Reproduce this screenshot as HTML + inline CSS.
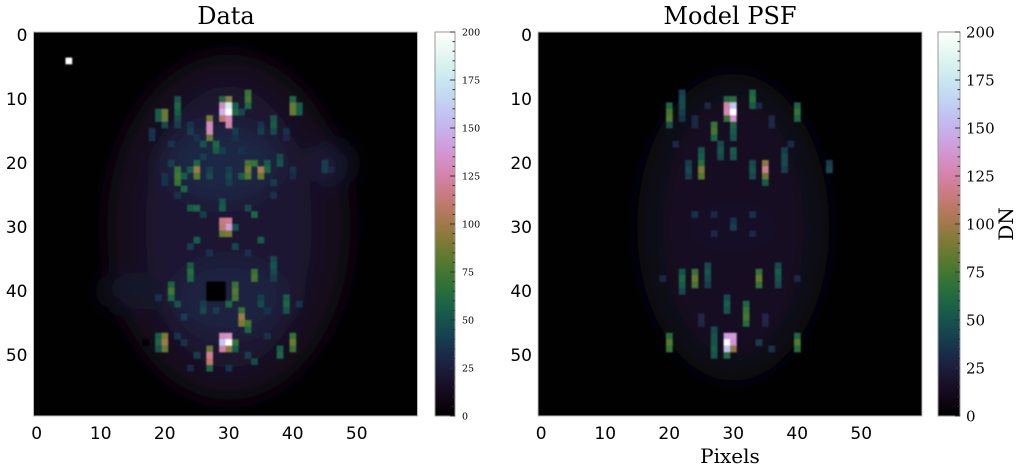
<!DOCTYPE html>
<html><head><meta charset="utf-8">
<style>
html,body{margin:0;padding:0;background:#fff;}
body{width:1020px;height:467px;position:relative;overflow:hidden;font-family:"DejaVu Sans","Liberation Sans",sans-serif;}
</style></head>
<body>
<svg id="chart" width="1020" height="467" xmlns="http://www.w3.org/2000/svg" style="position:absolute;left:0;top:0">
<defs>
<linearGradient id="cg" x1="0" y1="1" x2="0" y2="0"></linearGradient>
<filter id="hazeBlur" filterUnits="userSpaceOnUse" x="0" y="0" width="1020" height="467"><feGaussianBlur stdDeviation="12"/></filter>
<filter id="cellBlur" filterUnits="userSpaceOnUse" x="0" y="0" width="1020" height="467"><feGaussianBlur stdDeviation="0.9"/></filter>
<clipPath id="clipL"><rect x="33.5" y="32" width="384" height="384"/></clipPath>
<clipPath id="clipR"><rect x="538" y="32" width="384" height="384"/></clipPath>
</defs>
<g id="imgL" clip-path="url(#clipL)"></g>
<g id="imgR" clip-path="url(#clipR)"></g>
<g id="frames"></g>
<g id="cbL"></g>
<g id="cbR"></g>
<g id="axes"></g>
</svg>
<script>
// tick values
const axisTicks=[0,10,20,30,40,50];
const cbTicks=[0,25,50,75,100,125,150,175,200];
// haze ellipses [centerCol,centerRow,radiusCols,radiusRows,value]
const hazeData=[[30,30,19,27,12],[30,30,13,22,20],[29,20,9,6,30],[30,41,9,6,28],[46,20,3,3,26],[15,40,5,3,18]];
const hazeModel=[[30,30,15,24,9],[30,30,11,20,15],[30,30,7,4,16]];
// bright cells [col,row,value]
const cellsData=[[5,4,200],
[30,10,95],[29,10,60],[29,11,130],[30,11,180],[29,12,150],[30,12,200],[29,13,110],[30,13,130],[30,14,125],[31,12,60],[31,11,55],
[27,13,90],[27,14,130],[27,15,130],[27,16,85],[28,17,60],[28,18,55],[26,17,50],
[20,12,85],[20,13,85],[19,12,55],[19,13,55],[20,14,45],[22,10,50],[22,11,60],[22,12,55],[22,13,45],[22,14,40],
[33,9,70],[33,10,75],[33,11,60],[32,12,45],[40,11,85],[40,12,85],[41,11,55],[41,12,55],[40,10,60],[37,13,50],[37,14,55],[37,15,45],
[18,15,35],[18,16,35],[24,14,35],[24,15,40],[25,16,35],[31,15,40],[31,16,35],[35,14,35],[35,15,40],[39,15,35],[39,16,30],[21,17,35],[26,19,40],[29,18,40],[32,18,35],
[25,20,60],[25,21,100],[25,22,80],[24,21,55],[22,21,70],[22,22,75],[22,23,70],[23,24,60],[23,22,55],[21,20,40],
[33,20,75],[33,21,90],[33,22,80],[34,20,70],[35,21,105],[35,22,85],[36,21,60],[36,20,55],[32,22,55],[38,19,45],[38,20,50],
[27,21,40],[27,22,45],[30,21,40],[30,22,45],[30,23,40],[20,22,35],[20,23,35],[40,21,35],[40,22,30],[37,23,40],
[45,20,40],[45,21,40],[46,21,30],
[24,27,55],[25,27,60],[29,26,50],[29,27,55],[34,28,60],[33,27,45],[26,28,40],[22,25,35],[37,25,35],
[29,29,115],[30,29,120],[30,30,140],[29,30,110],[29,31,85],[30,31,90],[31,30,50],
[25,32,55],[35,32,55],[24,33,40],[31,33,45],[27,34,35],[33,34,35],
[24,36,55],[24,37,65],[24,38,60],[34,37,70],[34,38,75],[37,35,45],[37,36,50],[37,37,45],[37,38,40],
[27,39,0],[28,39,0],[29,39,0],[27,40,0],[28,40,0],[29,40,0],[27,41,0],[28,41,0],[29,41,0],
[21,39,60],[21,40,75],[21,41,60],[22,42,50],[31,39,70],[31,40,80],[31,41,75],[30,42,60],
[26,42,40],[26,43,45],[28,43,40],[35,41,40],[35,42,45],[36,43,35],[23,44,40],[19,41,35],[41,42,35],
[32,43,70],[32,44,100],[32,45,90],[33,45,75],[33,46,60],[39,41,55],[39,42,60],[39,43,50],
[20,47,90],[20,48,100],[20,49,85],[19,47,55],[19,48,60],[19,49,50],[17,48,0],
[29,47,130],[30,47,135],[29,48,160],[30,48,200],[29,49,125],[30,49,95],[31,48,70],[31,49,55],
[27,49,85],[27,50,120],[27,51,110],[27,52,60],[40,47,70],[40,48,85],[40,49,70],[38,49,55],[38,50,60],[34,51,45],[25,50,40],
[22,47,35],[23,48,35],[36,47,35],[33,50,40],[30,52,35],[24,52,30]];
const cellsModel=[
[29,10,60],[30,10,65],[29,11,125],[30,11,160],[29,12,130],[30,12,200],[30,13,135],[29,13,70],[30,14,60],[30,15,55],[30,16,50],
[20,11,60],[20,12,75],[20,13,80],[20,14,50],[40,11,60],[40,12,70],[40,13,60],
[22,9,40],[22,10,45],[22,11,45],[22,12,40],[22,13,35],[33,9,60],[33,10,65],[33,11,55],
[27,14,70],[27,15,75],[27,16,60],[28,17,45],[28,18,50],[28,19,45],[30,18,55],[30,19,50],
[25,18,50],[25,19,55],[25,20,65],[25,21,90],[25,22,80],[23,20,40],[23,21,45],[23,22,40],
[35,20,95],[35,21,120],[35,22,85],[35,23,55],[33,20,45],[33,21,50],[33,22,45],[38,18,40],[38,19,45],[38,20,45],[38,21,40],
[24,13,30],[24,14,30],[36,13,30],[36,14,30],[26,11,30],[34,11,30],[21,17,30],[39,17,30],
[45,20,40],[45,21,45],
[24,28,35],[27,28,30],[33,28,35],[30,29,35],[30,30,40],[27,31,30],[33,31,30],
[24,37,70],[24,38,85],[24,39,75],[34,37,70],[34,38,85],[34,39,70],[22,37,50],[22,38,60],[22,39,55],[22,40,45],
[26,36,45],[26,37,50],[26,38,45],[26,39,40],[37,36,45],[37,37,55],[37,38,50],[37,39,45],
[29,41,45],[29,42,55],[29,43,50],[32,42,60],[32,43,70],[32,44,75],[32,45,65],
[25,44,30],[25,45,30],[35,44,30],[35,45,30],[19,38,30],[40,38,30],
[29,47,140],[29,48,200],[29,49,155],[30,47,140],[30,48,135],[30,49,95],[29,50,65],
[20,47,65],[20,48,80],[20,49,70],[40,47,60],[40,48,80],[40,49,65],[27,46,45],[27,47,50],[27,48,50],[27,49,55],[27,50,50],[34,48,40],[36,49,35]];

const NS='http://www.w3.org/2000/svg';
function cube(v){let x=Math.max(0,Math.min(1,v/200));const a=2*Math.PI*(0.5/3-1.5*x),amp=x*(1-x)/2,c=Math.cos(a),s=Math.sin(a);
let r=x+amp*(-0.14861*c+1.78277*s),g=x+amp*(-0.29227*c-0.90649*s),b=x+amp*(1.97294*c);
const f=t=>Math.round(255*Math.max(0,Math.min(1,t)));return `rgb(${f(r)},${f(g)},${f(b)})`;}
function mk(tag,attrs,parent){const e=document.createElementNS(NS,tag);for(const k in attrs)e.setAttribute(k,attrs[k]);parent.appendChild(e);return e;}
function drawImage(gid,x0,y0,w,h,haze,cells,label){
  const g=document.getElementById(gid);const cw=w/60,ch=h/60;
  const bg=mk('rect',{x:x0,y:y0,width:w,height:h,fill:cube(1)},g);
  
  
  const hg=mk('g',{filter:'url(#hazeBlur)'},g);
  
  
  haze.forEach(([cx,cy,rx,ry,v])=>{
    const e=mk('ellipse',{cx:x0+(cx+0.5)*cw,cy:y0+(cy+0.5)*ch,rx:rx*cw,ry:ry*ch,fill:cube(v)},hg);
    
    });
  const cg=mk('g',{filter:'url(#cellBlur)'},g);
  
  
  cells.forEach(([c,r,v])=>{
    const e=mk('rect',{x:(x0+c*cw).toFixed(2),y:(y0+r*ch).toFixed(2),width:(cw+0.3).toFixed(2),height:(ch+0.3).toFixed(2),fill:cube(v)},cg);
    
    });
  const fr=mk('rect',{x:x0,y:y0,width:w,height:h,fill:'none',stroke:'#bbb','stroke-width':1},document.getElementById('frames'));
  
  
}
drawImage('imgL',33.5,32,384,384,hazeData,cellsData,'data');
drawImage('imgR',538,32,384,384,hazeModel,cellsModel,'model');
const grad=document.getElementById('cg');
for(let i=0;i<=40;i++){mk('stop',{offset:(i/40),'stop-color':cube(i*5)},grad);}
function drawCb(gid,x,y,w,h,fs,xl){
  const g=document.getElementById(gid);
  const r=mk('rect',{x:x,y:y,width:w,height:h,fill:'url(#cg)',stroke:'#999','stroke-width':1},g);
  
  
  for(let v=0;v<=200;v+=5){const yy=y+h-v/200*h;const len=(v%25===0)?5:2.5;
    const t=mk('line',{x1:x+w-len,x2:x+w,y1:yy,y2:yy,stroke:'#333','stroke-width':1},g);
    
    }
  cbTicks.forEach(v=>{const yy=y+h-v/200*h;
    const t=mk('text',{x:xl,y:yy+fs*0.36,'font-size':fs,'font-family':'"DejaVu Serif","Liberation Serif",serif',fill:'#000'},g);
    t.textContent=v;
    
    });
}
drawCb('cbL',435,32,20,384,9.5,462);
drawCb('cbR',938,32,22,384,15,966);
const ax=document.getElementById('axes');
function txt(s,x,y,fs,anchor,fam,name){const t=mk('text',{x:x,y:y,'font-size':fs,'text-anchor':anchor,'font-family':fam,fill:'#000'},ax);t.textContent=s;
  
  return t;}
const sans='"DejaVu Sans","Liberation Sans",sans-serif', serif='"DejaVu Serif","Liberation Serif",serif';
[[33.5,'data'],[538,'model']].forEach(([x0,lab])=>{
  axisTicks.forEach(v=>{
    txt(v,x0+(v+0.5)*6.4,439,17,'middle',sans,lab+'-x-tick-label');
    txt(v,x0-6,32+(v+0.5)*6.4+6,17,'end',sans,lab+'-y-tick-label');
  });
});
txt('Data',226,24,24,'middle',serif,'data-title');
txt('Model PSF',730,24,24,'middle',serif,'model-title');
txt('Pixels',730,463,20,'middle',serif,'x-axis-title');
const dn=txt('DN',0,0,20,'middle',serif,'colorbar-title');dn.setAttribute('transform','translate(1013,224) rotate(-90)');
</script>
</body></html>
